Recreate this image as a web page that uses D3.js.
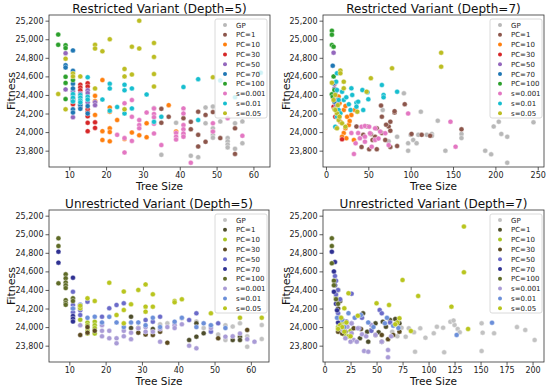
<!DOCTYPE html>
<html>
<head>
<meta charset="utf-8">
<script src="https://cdn.jsdelivr.net/npm/d3@7"></script>
<style>
  body { margin: 0; background: #fff; }
  svg { font-family: "DejaVu Sans", sans-serif; }
</style>
</head>
<body>
<div id="chart"></div>
<script>
// series names, in legend order
var seriesNames = ["GP", "PC=1", "PC=10", "PC=30", "PC=50", "PC=70", "PC=100", "s=0.001", "s=0.01", "s=0.05"];

// palettes (top row uses tab10, bottom row a muted palette)
var restrictedColors = ["#b8b8b8", "#8c564b", "#ff7f0e", "#d62728", "#9467bd", "#1f77b4", "#2ca02c", "#e377c2", "#17becf", "#bcbd22"];
var unrestrictedColors = ["#c2c2c2", "#4d4d2b", "#a9c424", "#5c4a20", "#6b6bc9", "#2f3192", "#5f6b27", "#a99bd6", "#6b8fd9", "#b9c51e"];

// tick values
var yTicks = [23800, 24000, 24200, 24400, 24600, 24800, 25000, 25200];
var xTicksDepth5 = [10, 20, 30, 40, 50, 60];
var xTicksRestricted7 = [0, 50, 100, 150, 200, 250];
var xTicksUnrestricted7 = [0, 25, 50, 75, 100, 125, 150, 175, 200];

// points: [series, tree size, fitness]
var restricted5 = [
  ["GP",33,24260],["GP",35,23755],["GP",39,24100],["GP",43,23745],["GP",45,23730],["GP",47,24265],["GP",47,24095],
  ["GP",49,24275],["GP",49,24040],["GP",49,24005],["GP",49,23970],["GP",49,23940],["GP",51,24115],["GP",53,23935],
  ["GP",53,23900],["GP",53,23865],["GP",53,23835],["GP",55,24095],["GP",55,23820],["GP",57,24115],["GP",57,23880],
  ["PC=1",35,24250],["PC=1",35,24100],["PC=1",37,24165],["PC=1",41,24150],["PC=1",41,23970],["PC=1",43,24110],
  ["PC=1",43,24030],["PC=1",45,24220],["PC=1",45,23970],["PC=1",45,23845],["PC=1",47,24185],["PC=1",47,23895],
  ["PC=1",49,24215],["PC=1",51,23935],["PC=1",55,24040],["PC=1",55,23765],
  ["PC=10",17,24390],["PC=10",17,24335],["PC=10",17,24185],["PC=10",19,24560],["PC=10",19,24010],["PC=10",19,23915],
  ["PC=10",21,24265],["PC=10",21,24220],["PC=10",21,24040],["PC=10",21,24000],["PC=10",21,23900],["PC=10",23,24130],
  ["PC=10",25,23925],["PC=10",27,23995],["PC=10",29,23965],["PC=10",31,24095],["PC=10",31,23945],["PC=10",37,24290],
  ["PC=10",39,24005],
  ["PC=30",11,24360],["PC=30",11,24300],["PC=30",13,24510],["PC=30",13,24480],["PC=30",13,24450],["PC=30",13,24300],
  ["PC=30",13,24265],["PC=30",15,24525],["PC=30",15,24490],["PC=30",15,24245],["PC=30",15,24215],["PC=30",15,24170],
  ["PC=30",15,24100],["PC=30",15,24010],["PC=30",17,24105],["PC=30",17,24045],
  ["PC=50",9,24850],["PC=50",9,24460],["PC=50",11,24440],["PC=50",11,24400],["PC=50",13,24415],["PC=50",13,24380],
  ["PC=50",15,24450],["PC=50",15,24420],["PC=50",15,24320],["PC=50",17,24320],["PC=50",17,24290],["PC=50",11,24160],
  ["PC=70",9,24720],["PC=70",9,24695],["PC=70",11,24880],["PC=70",11,24660],["PC=70",11,24520],["PC=70",11,24470],
  ["PC=70",11,24340],["PC=70",11,24245],["PC=70",13,24290],["PC=70",13,24250],["PC=70",15,24280],["PC=70",15,24200],
  ["PC=70",11,24210],
  ["PC=100",7,25050],["PC=100",7,24940],["PC=100",9,24935],["PC=100",9,24905],["PC=100",9,24595],["PC=100",9,24530],
  ["PC=100",9,24355],["PC=100",11,24560],
  ["s=0.001",23,23970],["s=0.001",25,24310],["s=0.001",25,23935],["s=0.001",25,23780],["s=0.001",27,24345],
  ["s=0.001",27,24165],["s=0.001",27,23905],["s=0.001",29,24130],["s=0.001",29,24075],["s=0.001",29,24040],
  ["s=0.001",31,24210],["s=0.001",33,24255],["s=0.001",33,24195],["s=0.001",33,24160],["s=0.001",33,24090],
  ["s=0.001",33,23985],["s=0.001",35,23860],["s=0.001",39,23990],["s=0.001",39,23950],["s=0.001",39,23920],
  ["s=0.001",41,24255],["s=0.001",41,24200],["s=0.001",41,24075],["s=0.001",41,24030],["s=0.001",41,23985],
  ["s=0.001",41,23950],["s=0.001",43,23670],["s=0.001",49,24095],["s=0.001",49,24005],["s=0.001",53,24150],
  ["s=0.001",57,23960],
  ["s=0.01",11,24410],["s=0.01",11,24370],["s=0.01",11,24330],["s=0.01",13,24400],["s=0.01",13,24370],
  ["s=0.01",13,24340],["s=0.01",13,24320],["s=0.01",15,24590],["s=0.01",15,24380],["s=0.01",15,24350],
  ["s=0.01",19,24350],["s=0.01",21,24520],["s=0.01",21,24470],["s=0.01",21,24230],["s=0.01",23,24270],
  ["s=0.01",25,24510],["s=0.01",25,24450],["s=0.01",25,24200],["s=0.01",27,24470],["s=0.01",27,24255],
  ["s=0.01",31,24405],["s=0.01",33,24110],["s=0.01",35,24165],["s=0.01",41,24485],["s=0.01",45,24570],
  ["s=0.01",45,24130],["s=0.01",51,24555],["s=0.01",55,24375],["s=0.01",62,24640],
  ["s=0.05",7,24410],["s=0.05",9,24790],["s=0.05",9,24245],["s=0.05",11,24630],["s=0.05",11,24600],["s=0.05",13,24600],
  ["s=0.05",17,24940],["s=0.05",17,24900],["s=0.05",17,24470],["s=0.05",19,24870],["s=0.05",21,25000],
  ["s=0.05",25,24680],["s=0.05",25,24600],["s=0.05",25,24245],["s=0.05",27,24920],["s=0.05",27,24620],
  ["s=0.05",29,25200],["s=0.05",29,24900],["s=0.05",33,24960],["s=0.05",33,24810],["s=0.05",33,24625],
  ["s=0.05",33,24490],["s=0.05",49,24590]
];

var restricted7 = [
  ["GP",67,24238],["GP",92,24417],["GP",112,24220],["GP",132,24123],["GP",198,24060],["GP",204,24112],["GP",207,23980],
  ["GP",245,24105],["GP",214,23950],["GP",214,23670],["GP",188,23800],["GP",195,23760],["GP",160,23980],["GP",160,23935],
  ["GP",141,23800],["GP",97,23800],["GP",97,23880],["GP",103,23915],["GP",109,23970],["GP",100,23970],["GP",74,23900],
  ["GP",84,23950],["GP",119,23970],["GP",125,23980],["GP",125,23960],["GP",107,23880],
  ["PC=1",65,24285],["PC=1",93,24300],["PC=1",81,24210],["PC=1",81,24225],["PC=1",160,24030],["PC=1",113,23970],
  ["PC=1",123,23960],["PC=1",101,23980],["PC=1",74,24060],["PC=1",76,24112],["PC=1",71,24080],["PC=1",76,24015],
  ["PC=1",66,23990],["PC=1",60,24040],["PC=1",58,23950],["PC=1",53,23980],["PC=1",44,23970],["PC=1",36,24060],
  ["PC=1",42,23840],["PC=1",51,23815],["PC=1",60,23815],["PC=1",76,23840],["PC=1",84,23850],["PC=1",70,23915],
  ["PC=1",55,23915],["PC=1",49,24060],["PC=1",66,24166],
  ["PC=10",33,23915],["PC=10",24,23933],["PC=10",21,23990],["PC=10",23,24040],["PC=10",27,24076],["PC=10",17,24112],
  ["PC=10",25,24166],["PC=10",30,24184],["PC=10",21,24238],["PC=10",16,24310],["PC=10",12,24346],["PC=10",15,24382],
  ["PC=10",23,24281],["PC=10",34,24238],["PC=10",19,23951],["PC=10",28,24120],["PC=10",14,24200],
  ["PC=30",19,23922],["PC=30",11,24166],["PC=30",9,24274],["PC=30",13,24328],["PC=30",10,24520],["PC=30",12,24050],
  ["PC=30",9,24400],
  ["PC=50",9,24855],["PC=50",11,24535],["PC=50",13,24346],["PC=50",10,24470],["PC=50",12,24290],
  ["PC=70",8,24715],["PC=70",9,24525],["PC=70",13,24238],["PC=70",10,24328],["PC=70",11,24430],
  ["PC=100",7,25092],["PC=100",7,25049],["PC=100",7,24938],["PC=100",9,24920],["PC=100",7,24407],["PC=100",9,24600],
  ["PC=100",10,24453],["PC=100",8,24380],
  ["s=0.001",97,24200],["s=0.001",147,24112],["s=0.001",153,23843],["s=0.001",33,23764],["s=0.001",35,23879],
  ["s=0.001",40,23933],["s=0.001",42,24058],["s=0.001",46,24066],["s=0.001",51,24058],["s=0.001",58,24040],
  ["s=0.001",64,24005],["s=0.001",70,23987],["s=0.001",52,23987],["s=0.001",46,23951],["s=0.001",58,23915],
  ["s=0.001",46,23897],["s=0.001",54,23843],["s=0.001",74,23860],["s=0.001",38,23990],["s=0.001",30,23990],
  ["s=0.001",62,23930],
  ["s=0.01",36,24317],["s=0.01",43,24453],["s=0.01",50,24353],["s=0.01",31,24400],["s=0.01",21,24346],
  ["s=0.01",24,24374],["s=0.01",30,24471],["s=0.01",19,24435],["s=0.01",66,24507],["s=0.01",68,24400],
  ["s=0.01",68,24374],["s=0.01",84,24435],["s=0.01",38,24328],["s=0.01",44,24238],["s=0.01",29,24238],
  ["s=0.01",36,24274],["s=0.01",12,24543],["s=0.01",13,24453],["s=0.01",13,24633],["s=0.01",15,24346],
  ["s=0.01",15,24238],["s=0.01",13,24166],["s=0.01",11,24058],["s=0.01",17,24202],["s=0.01",49,24430],
  ["s=0.01",27,24300],
  ["s=0.05",136,24855],["s=0.05",136,24705],["s=0.05",78,24687],["s=0.05",53,24580],["s=0.05",48,24435],
  ["s=0.05",17,24662],["s=0.05",17,24633],["s=0.05",21,24543],["s=0.05",21,24471],["s=0.05",7,24532],
  ["s=0.05",9,24346],["s=0.05",10,24245],["s=0.05",13,24202],["s=0.05",15,24130],["s=0.05",13,24040],
  ["s=0.05",11,24238],["s=0.05",19,24094],["s=0.05",23,24058],["s=0.05",16,24166],["s=0.05",37,24220],
  ["s=0.05",11,24400],["s=0.05",14,24290]
];

var unrestricted5 = [
  ["GP",41,24094],["GP",47,23990],["GP",49,24020],["GP",49,23960],["GP",53,24020],["GP",55,24005],["GP",57,24040],
  ["GP",59,23789],["GP",63,24022],["GP",63,23872],["GP",45,24060],["GP",51,23920],["GP",35,24030],["GP",37,24040],
  ["GP",39,24050],["GP",53,23860],["GP",59,23900],
  ["PC=1",27,24112],["PC=1",43,23861],["PC=1",45,24040],["PC=1",45,23897],["PC=1",47,23933],["PC=1",55,23861],
  ["PC=1",57,23897],["PC=1",57,23861],["PC=1",27,23990],["PC=1",33,23980],["PC=1",29,23990],
  ["PC=10",15,24050],["PC=10",15,24020],["PC=10",15,23990],["PC=10",15,23960],["PC=10",15,23930],["PC=10",17,24058],
  ["PC=10",17,24020],["PC=10",17,23990],["PC=10",17,23930],["PC=10",13,24080],
  ["PC=30",13,23915],["PC=30",15,24000],["PC=30",15,23940],["PC=30",17,23960],["PC=30",33,23915],["PC=30",37,23832],
  ["PC=30",51,23879],["PC=30",59,23969],["PC=30",35,23950],["PC=30",31,23920],["PC=30",29,23940],
  ["PC=50",11,24381],["PC=50",11,24238],["PC=50",11,24200],["PC=50",11,24160],["PC=50",13,24180],["PC=50",13,24130],
  ["PC=50",15,24274],["PC=50",19,24112],["PC=50",21,24202],["PC=50",23,24238],["PC=50",25,24256],["PC=50",31,24076],
  ["PC=50",33,24058],["PC=50",35,24112],["PC=50",43,24076],["PC=50",45,24148],["PC=50",49,23951],["PC=50",51,24040],
  ["PC=50",13,24240],
  ["PC=70",7,24812],["PC=70",7,24694],["PC=70",11,24532],["PC=70",11,24120],["PC=70",11,24090],["PC=70",11,24060],
  ["PC=100",7,24956],["PC=100",7,24873],["PC=100",7,24471],["PC=100",9,24568],["PC=100",9,24525],["PC=100",9,24480],
  ["PC=100",9,24450],["PC=100",9,24420],["PC=100",9,24290],["PC=100",9,24260],["PC=100",9,24240],["PC=100",11,24310],
  ["PC=100",11,24281],["PC=100",13,24220],
  ["s=0.001",13,24020],["s=0.001",19,24020],["s=0.001",19,23960],["s=0.001",19,23900],["s=0.001",21,23879],
  ["s=0.001",21,23960],["s=0.001",23,23879],["s=0.001",23,23825],["s=0.001",25,23900],["s=0.001",25,23960],
  ["s=0.001",27,23940],["s=0.001",27,23870],["s=0.001",29,23987],["s=0.001",31,24000],["s=0.001",31,23950],
  ["s=0.001",33,23950],["s=0.001",35,23843],["s=0.001",35,23980],["s=0.001",37,24000],["s=0.001",39,24020],
  ["s=0.001",39,23990],["s=0.001",43,23800],["s=0.001",45,23771],["s=0.001",49,23990],["s=0.001",53,23897],
  ["s=0.001",61,23843],["s=0.001",41,24030],["s=0.001",57,23930],["s=0.001",59,23870],["s=0.001",55,23900],
  ["s=0.01",11,24200],["s=0.01",13,24240],["s=0.01",15,24100],["s=0.01",17,24112],["s=0.01",19,24050],
  ["s=0.01",21,24110],["s=0.01",23,24050],["s=0.01",25,24000],["s=0.01",27,24050],["s=0.01",29,24050],
  ["s=0.01",31,24020],["s=0.01",33,24100],["s=0.01",35,24000],["s=0.01",39,24058],["s=0.01",41,24100],
  ["s=0.01",45,24000],["s=0.01",47,24040],["s=0.01",49,24020],["s=0.01",53,23990],
  ["s=0.05",13,24202],["s=0.05",15,24310],["s=0.05",17,24281],["s=0.05",21,24478],["s=0.05",23,24130],
  ["s=0.05",25,24382],["s=0.05",25,24184],["s=0.05",25,24040],["s=0.05",27,24245],["s=0.05",29,24400],
  ["s=0.05",31,24460],["s=0.05",31,24220],["s=0.05",31,24166],["s=0.05",33,24353],["s=0.05",33,24220],
  ["s=0.05",39,24281],["s=0.05",39,24267],["s=0.05",41,24299],["s=0.05",49,24148],["s=0.05",57,24101],
  ["s=0.05",63,24101],["s=0.05",13,24230]
];

var unrestricted7 = [
  ["GP",193,23969],["GP",202,23861],["GP",151,24040],["GP",152,23940],["GP",151,23742],["GP",163,23933],["GP",121,24058],
  ["GP",125,24022],["GP",128,23980],["GP",130,23944],["GP",114,23994],["GP",108,24004],["GP",105,23933],["GP",97,23886],
  ["GP",92,23987],["GP",86,23944],["GP",87,23735],["GP",115,23728],["GP",81,23987],["GP",78,23897],["GP",74,23994],
  ["GP",185,24000],["GP",124,24070],["GP",70,23900],["GP",65,23950],
  ["PC=1",37,24148],["PC=1",49,24040],["PC=1",56,24058],["PC=1",63,24076],["PC=1",68,24087],["PC=1",72,24040],
  ["PC=1",59,24004],["PC=1",52,23944],["PC=1",45,23969],["PC=1",41,23951],["PC=1",34,23879],["PC=1",55,23843],
  ["PC=1",42,23843],["PC=1",15,24280],["PC=1",13,24200],["PC=1",20,23950],
  ["PC=10",13,24000],["PC=10",15,23950],["PC=10",17,24050],["PC=10",19,23920],["PC=10",21,24010],["PC=10",15,24100],
  ["PC=10",17,23980],["PC=10",23,23900],["PC=10",25,23960],["PC=10",19,24060],["PC=10",13,24400],["PC=10",11,24320],
  ["PC=30",15,23980],["PC=30",13,23950],["PC=30",17,23930],["PC=30",19,23990],["PC=30",49,23915],["PC=30",55,23915],
  ["PC=30",66,23915],["PC=30",72,23951],["PC=30",61,23870],["PC=30",35,23980],["PC=30",28,23987],
  ["PC=50",10,24550],["PC=50",11,24500],["PC=50",13,24400],["PC=50",11,24350],["PC=50",15,24300],["PC=50",13,24150],
  ["PC=50",15,24100],["PC=50",26,24040],["PC=50",33,23987],["PC=50",45,23960],["PC=50",53,24184],["PC=50",55,24148],
  ["PC=50",63,24050],["PC=50",26,24360],["PC=50",36,24100],["PC=50",21,24060],
  ["PC=70",7,24812],["PC=70",10,24700],["PC=70",9,24600],["PC=70",10,24450],["PC=70",11,24250],["PC=70",9,24380],
  ["PC=70",12,24180],["PC=70",13,24050],
  ["PC=100",7,24956],["PC=100",7,24873],["PC=100",7,24687],["PC=100",9,24500],["PC=100",9,24450],["PC=100",11,24300],
  ["PC=100",13,24250],["PC=100",13,24100],["PC=100",15,24000],
  ["s=0.001",22,24004],["s=0.001",26,23933],["s=0.001",28,23861],["s=0.001",25,23843],["s=0.001",31,23843],
  ["s=0.001",38,23742],["s=0.001",42,23735],["s=0.001",61,23753],["s=0.001",61,23674],["s=0.001",49,23915],
  ["s=0.001",55,23843],["s=0.001",32,23987],["s=0.001",26,24040],["s=0.001",18,23960],["s=0.001",20,23880],
  ["s=0.001",36,23922],["s=0.001",45,24022],["s=0.001",64,23900],["s=0.001",40,23900],
  ["s=0.01",161,24047],["s=0.01",127,23915],["s=0.01",35,24130],["s=0.01",29,24100],["s=0.01",47,24000],
  ["s=0.01",66,24015],["s=0.01",71,23990],["s=0.01",58,24040],["s=0.01",23,24150],["s=0.01",17,24080],
  ["s=0.01",12,24100],["s=0.01",19,24000],["s=0.01",42,24050],["s=0.01",60,24100],
  ["s=0.05",134,25082],["s=0.05",134,24590],["s=0.05",75,24507],["s=0.05",90,24335],["s=0.05",122,24220],
  ["s=0.05",138,23980],["s=0.05",83,23958],["s=0.05",50,24256],["s=0.05",62,24238],["s=0.05",23,24364],
  ["s=0.05",19,24202],["s=0.05",32,24123],["s=0.05",72,24094],["s=0.05",15,24020],["s=0.05",17,24000],
  ["s=0.05",19,23950],["s=0.05",21,24050],["s=0.05",13,23980],["s=0.05",16,24100],["s=0.05",25,23900],
  ["s=0.05",70,24050],["s=0.05",68,24030]
];

var svg = d3.select("#chart").append("svg")
  .attr("width", 550)
  .attr("height", 389);

svg.append("rect").attr("width", 550).attr("height", 389).attr("fill", "#fff");

var yDomain = [23624, 25261];

function drawPanel(cfg) {
  var g = svg.append("g").attr("transform", `translate(${cfg.ox}, ${cfg.oy})`);

  var x = d3.scaleLinear().domain(cfg.xDomain).range([cfg.left, cfg.right]);
  var y = d3.scaleLinear().domain(yDomain).range([167, 15]);
  var color = d3.scaleOrdinal().domain(seriesNames).range(cfg.colors);

  // axes
  var xAxis = g.append("g")
    .attr("transform", "translate(0,167)")
    .call(d3.axisBottom(x).tickValues(cfg.xTicks).tickSize(3.5).tickPadding(2).tickFormat(d3.format("d")));
  var yAxis = g.append("g")
    .attr("transform", `translate(${cfg.left},0)`)
    .call(d3.axisLeft(y).tickValues(yTicks).tickSize(3.5).tickPadding(2).tickFormat(d3.format(",")));

  [xAxis, yAxis].forEach(function(a) {
    a.select(".domain").remove();
    a.selectAll(".tick line").attr("stroke", "#333").attr("stroke-width", 0.8);
    a.selectAll("text").attr("font-size", "8px").attr("fill", "#222")
      .attr("font-family", "DejaVu Sans, sans-serif");
  });

  // points
  g.append("g").selectAll("circle")
    .data(cfg.data)
    .enter()
    .append("circle")
    .attr("cx", d => x(d[1]))
    .attr("cy", d => y(d[2]))
    .attr("r", 2.5)
    .attr("fill", d => color(d[0]))
    .attr("stroke", "#fff")
    .attr("stroke-width", 0.4);

  // frame
  g.append("rect")
    .attr("x", cfg.left).attr("y", 15)
    .attr("width", cfg.right - cfg.left).attr("height", 152)
    .attr("fill", "none").attr("stroke", "#333").attr("stroke-width", 0.8);

  // title and labels
  g.append("text")
    .attr("x", (cfg.left + cfg.right) / 2).attr("y", 13)
    .attr("text-anchor", "middle").attr("font-size", "12px").attr("fill", "#111")
    .text(cfg.title);
  g.append("text")
    .attr("x", (cfg.left + cfg.right) / 2).attr("y", 189.5)
    .attr("text-anchor", "middle").attr("font-size", "10.5px").attr("fill", "#111")
    .text("Tree Size");
  g.append("text")
    .attr("transform", `translate(15,91) rotate(-90)`)
    .attr("text-anchor", "middle").attr("font-size", "11px").attr("fill", "#111")
    .text("Fitness");

  // legend
  var lg = g.append("g").attr("transform", "translate(215,19)");
  lg.append("rect")
    .attr("width", 52).attr("height", 99).attr("rx", 2)
    .attr("fill", "#fff").attr("fill-opacity", 0.8)
    .attr("stroke", "#d0d0d0").attr("stroke-width", 0.8);
  var items = lg.selectAll(".item")
    .data(seriesNames)
    .enter()
    .append("g")
    .attr("transform", (d, i) => `translate(0, ${6 + i * 9.8})`);
  items.append("circle")
    .attr("cx", 10).attr("cy", 0).attr("r", 2)
    .attr("fill", d => color(d));
  items.append("text")
    .attr("x", 21).attr("y", 2.5)
    .attr("font-size", "7px").attr("fill", "#222")
    .text(d => d);
}

drawPanel({ox: 0, oy: 0, left: 49, right: 270, xDomain: [4.5, 64.5], xTicks: xTicksDepth5,
  colors: restrictedColors, data: restricted5, title: "Restricted Variant (Depth=5)"});
drawPanel({ox: 275, oy: 0, left: 48, right: 269, xDomain: [-3.5, 257.4], xTicks: xTicksRestricted7,
  colors: restrictedColors, data: restricted7, title: "Restricted Variant (Depth=7)"});
drawPanel({ox: 0, oy: 195, left: 49, right: 269, xDomain: [4.4, 65], xTicks: xTicksDepth5,
  colors: unrestrictedColors, data: unrestricted5, title: "Unrestricted Variant (Depth=5)"});
drawPanel({ox: 275, oy: 195, left: 48, right: 269, xDomain: [-1.5, 211], xTicks: xTicksUnrestricted7,
  colors: unrestrictedColors, data: unrestricted7, title: "Unrestricted Variant (Depth=7)"});
</script>
</body>
</html>
